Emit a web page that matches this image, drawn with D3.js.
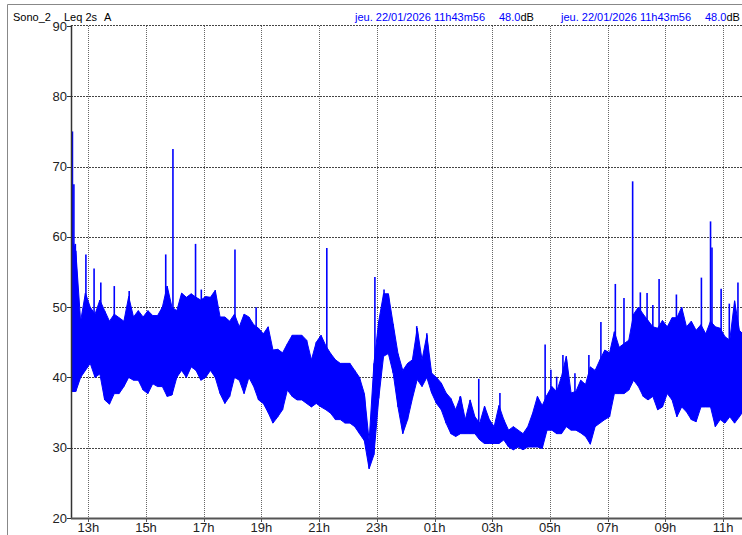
<!DOCTYPE html>
<html>
<head>
<meta charset="utf-8">
<script src="https://cdn.jsdelivr.net/npm/d3@7"></script>
<style>
  html, body { margin: 0; padding: 0; background: #fff; overflow: hidden; }
  svg { display: block; font-family: "Liberation Sans", Arial, sans-serif; }
</style>
</head>
<body>
<svg id="chart" width="742" height="535"></svg>
<script>
// ---- Data ----
// 10-minute samples starting 21/01/2026 12:24, upper and lower envelope (dB)
const sampleStart = "2026-01-21T12:24";
const sampleStepMin = 10;
const hiValues = [
  60, 58, 48, 52, 50, 49,
  51, 49.5, 48, 49, 48.5, 48,
  51.5, 48.6, 49.5, 48.6, 49.5, 48.8,
  48.8, 50, 53, 50, 49.5, 52,
  51.4, 51.9, 51.4, 51, 51.5, 51.4,
  52.4, 48.6, 48.6, 48, 49, 47.2,
  49, 48.6, 47.5, 47, 46.2, 47.2,
  43.9, 44, 43.5, 44.8, 46, 46,
  46, 45.3, 42.5, 45, 46, 44.5,
  43.4, 42.5, 42, 42, 42, 41,
  40, 37.7, 31, 42, 48, 51.9,
  51.9, 47.6, 43.4, 41, 42, 42.5,
  47, 42.5, 46, 40.6, 40, 39.2,
  37.8, 37, 35.4, 37.3, 34, 36.8,
  34.4, 33.5, 35.9, 34, 33, 36,
  34, 32.5, 33, 32.5, 32, 33,
  34.9, 37.3, 36, 37.5, 38.7, 38,
  40.1, 43, 37.8, 38, 39.6, 39,
  41.5, 41, 42.5, 43.9, 43.5, 46.5,
  44.3, 44.8, 45.3, 49, 50, 49,
  48.1, 47.2, 47, 48.1, 47.2, 48.5,
  48.5, 50, 47.2, 48, 46.7, 47.5,
  46.2, 48, 47.2, 47, 45.8, 45.3,
  50.9, 46.7, 46
];
const loValues = [
  38, 38, 40, 41, 42, 40,
  40.5, 36.8, 36.2, 37.7, 37.7, 38.7,
  40, 39.6, 39.6, 38.2, 37.7, 39.1,
  38.7, 38.7, 37.3, 37.5, 40, 41,
  40, 41.5, 41, 39.6, 40, 41,
  40, 37.7, 36.3, 37.3, 40, 39.6,
  37.7, 40, 38.7, 36.8, 36.3, 35,
  33.5, 34.4, 35.4, 38.2, 37.3, 36.8,
  36.8, 36.3, 35.8, 36.3, 35.8, 35.4,
  34.9, 34, 34, 33.5, 33.5, 33,
  32, 31, 27, 29, 37, 43,
  43.4, 40.6, 35.8, 32, 34, 37,
  39.7, 38.7, 40, 37.8, 36.3, 35.4,
  33.5, 32, 31.6, 32, 32, 32,
  32, 31.1, 30.6, 30.6, 30.6, 30.6,
  31.1, 30.1, 29.7, 30.1, 29.7, 30.1,
  30.1, 30.1, 29.9, 32.5, 32.5, 32,
  32, 33, 32.5, 32.5, 32.1, 31.6,
  30.5, 33, 33.5, 34, 34.4, 37.7,
  37.7, 37.7, 38.2, 39.6, 38.7, 37.3,
  36.8, 37.3, 35.4, 35.8, 37.7, 36.8,
  34.4, 35.8, 35.1, 34, 33.7, 35.8,
  35.8, 35.8, 33, 34, 33.5, 34.4,
  33.5, 34.4, 35.4
];
// isolated peaks: time and peak level (dB)
const spikeTimes = ["12:27","12:30","12:33","12:55","13:12","13:26","13:54","14:25",
  "15:41","15:56","16:43","16:55","18:05","18:49","21:16","22:56","23:15",
  "00:23","00:44","01:53","02:32","03:16","04:50","05:02","05:14","05:27","05:52",
  "06:21","06:46","07:16","07:34","07:52","08:08","08:22","08:34","08:47",
  "09:23","10:15","10:34","10:37","10:56","11:13","11:31"];
const spikeValues = [75, 67.5, 59, 57.5, 55.5, 53.5, 53, 52.3,
  57.5, 72.5, 59, 52.5, 58.2, 50, 58.4, 54.3, 52.5,
  47.3, 46.3, 37.3, 39.8, 37.8, 44.7, 41.1, 40.1, 43.2, 40.6,
  43.2, 47.9, 53.3, 51.3, 67.9, 52.1, 52, 50.3, 54,
  51.8, 54.2, 62.2, 58.5, 52.6, 50.5, 53.5];

const yTickValues = [20, 30, 40, 50, 60, 70, 80, 90];
const xTickHours = [13, 15, 17, 19, 21, 23, 1, 3, 5, 7, 9, 11];
const xTickLabels = ["13h","15h","17h","19h","21h","23h","01h","03h","05h","07h","09h","11h"];

const headerLeft = ["Sono_2", "Leq 2s", "A"];
const cursorDate = "jeu. 22/01/2026 11h43m56";
const cursorLevel = "48.0";
const levelUnit = "dB";

// ---- Setup ----
const svg = d3.select("#chart");
const plot = { left: 71, top: 26, right: 742, bottom: 518 };

const t0 = new Date(sampleStart);
const tEnd = d3.timeMinute.offset(t0, (hiValues.length - 1) * sampleStepMin);
const x = d3.scaleTime().domain([t0, tEnd]).range([71, 744.2]);
const y = d3.scaleLinear().domain([20, 90]).range([plot.bottom, plot.top]);

function dayTime(hhmm) {
  const [h, m] = hhmm.split(":").map(Number);
  return new Date(2026, 0, h < 12 ? 22 : 21, h, m);
}
const samples = hiValues.map((hv, i) => ({
  t: d3.timeMinute.offset(t0, i * sampleStepMin), hi: hv, lo: loValues[i]
}));
const spikes = spikeTimes.map((s, i) => ({ t: dayTime(s), v: spikeValues[i] }));
const xTicks = xTickHours.map(h => new Date(2026, 0, h < 12 ? 22 : 21, h, 0));

// Outer frame
svg.append("line").attr("x1", 7.5).attr("x2", 742).attr("y1", 4.5).attr("y2", 4.5)
  .attr("stroke", "#888").attr("stroke-width", 1);
svg.append("line").attr("x1", 7.5).attr("x2", 7.5).attr("y1", 4.5).attr("y2", 535)
  .attr("stroke", "#888").attr("stroke-width", 1);

// Header
const hdr = svg.append("g").attr("font-size", 11);
const hl = [13, 64, 104];
headerLeft.forEach((s, i) => hdr.append("text").attr("x", hl[i]).attr("y", 20.5).attr("fill", "#000").text(s));
[[355, 499], [561, 705]].forEach(([xd, xl]) => {
  hdr.append("text").attr("x", xd).attr("y", 20.5).attr("fill", "#0000ff").text(cursorDate);
  const tl = hdr.append("text").attr("x", xl).attr("y", 20.5);
  tl.append("tspan").attr("fill", "#0000ff").text(cursorLevel);
  tl.append("tspan").attr("fill", "#000").text(levelUnit);
});

// Grid
const grid = svg.append("g");
grid.selectAll(".vg").data(xTicks).join("line")
  .attr("x1", d => Math.round(x(d)) + 0.5).attr("x2", d => Math.round(x(d)) + 0.5)
  .attr("y1", plot.top).attr("y2", plot.bottom)
  .attr("stroke", "#666").attr("stroke-width", 1).attr("stroke-dasharray", "1,1");
grid.selectAll(".hg").data(yTickValues.filter(v => v > 20 && v < 90)).join("line")
  .attr("x1", plot.left).attr("x2", plot.right)
  .attr("y1", d => Math.round(y(d)) + 0.5).attr("y2", d => Math.round(y(d)) + 0.5)
  .attr("stroke", "#444").attr("stroke-width", 1).attr("stroke-dasharray", "2,1");
// top border
svg.append("line").attr("x1", plot.left).attr("x2", plot.right)
  .attr("y1", plot.top - 0.5).attr("y2", plot.top - 0.5)
  .attr("stroke", "#444").attr("stroke-width", 1.2).attr("stroke-dasharray", "2,1");

// Clip
svg.append("clipPath").attr("id", "clip").append("rect")
  .attr("x", plot.left).attr("y", plot.top).attr("width", plot.right - plot.left).attr("height", plot.bottom - plot.top);
const dataG = svg.append("g").attr("clip-path", "url(#clip)");

// Band between lower and upper envelope
const area = d3.area().x(d => x(d.t)).y0(d => y(d.lo)).y1(d => y(d.hi));
dataG.append("path").datum(samples).attr("d", area)
  .attr("fill", "#0000ff").attr("stroke", "#0000ff").attr("stroke-width", 1).attr("stroke-linejoin", "miter");

// Zigzag through envelope values for ragged texture
const zig = [];
samples.forEach(d => { zig.push([x(d.t), y(d.lo)]); zig.push([x(d.t), y(d.hi)]); });
dataG.append("path").attr("d", d3.line()(zig))
  .attr("fill", "none").attr("stroke", "#0000ff").attr("stroke-width", 1.2);

// Spikes
const bisect = d3.bisector(d => d.t).center;
dataG.selectAll(".spike").data(spikes).join("line")
  .attr("x1", d => x(d.t)).attr("x2", d => x(d.t))
  .attr("y1", d => y(d.v))
  .attr("y2", d => { const s = samples[bisect(samples, d.t)]; return y((s.hi + s.lo) / 2); })
  .attr("stroke", "#0000ff").attr("stroke-width", 1.6);

// Axes
const axG = svg.append("g").attr("font-size", 13).attr("fill", "#222");
svg.append("line").attr("x1", plot.left + 0.5).attr("x2", plot.left + 0.5)
  .attr("y1", plot.top - 1).attr("y2", plot.bottom + 1).attr("stroke", "#333").attr("stroke-width", 1.5);
svg.append("line").attr("x1", plot.left).attr("x2", plot.right)
  .attr("y1", plot.bottom + 0.5).attr("y2", plot.bottom + 0.5).attr("stroke", "#555").attr("stroke-width", 2);

axG.selectAll(".yt").data(yTickValues).join("line")
  .attr("x1", plot.left - 4).attr("x2", plot.left)
  .attr("y1", d => Math.round(y(d)) + 0.5).attr("y2", d => Math.round(y(d)) + 0.5)
  .attr("stroke", "#333");
axG.selectAll(".yl").data(yTickValues).join("text")
  .attr("x", plot.left - 4).attr("y", d => y(d) + 4.5)
  .attr("text-anchor", "end").text(d => d);

axG.selectAll(".xt").data(xTicks).join("line")
  .attr("x1", d => Math.round(x(d)) + 0.5).attr("x2", d => Math.round(x(d)) + 0.5)
  .attr("y1", plot.bottom).attr("y2", plot.bottom + 4)
  .attr("stroke", "#555");
axG.selectAll(".xl").data(xTicks).join("text")
  .attr("x", d => x(d)).attr("y", 531.5)
  .attr("text-anchor", "middle").text((d, i) => xTickLabels[i]);
</script>
</body>
</html>
